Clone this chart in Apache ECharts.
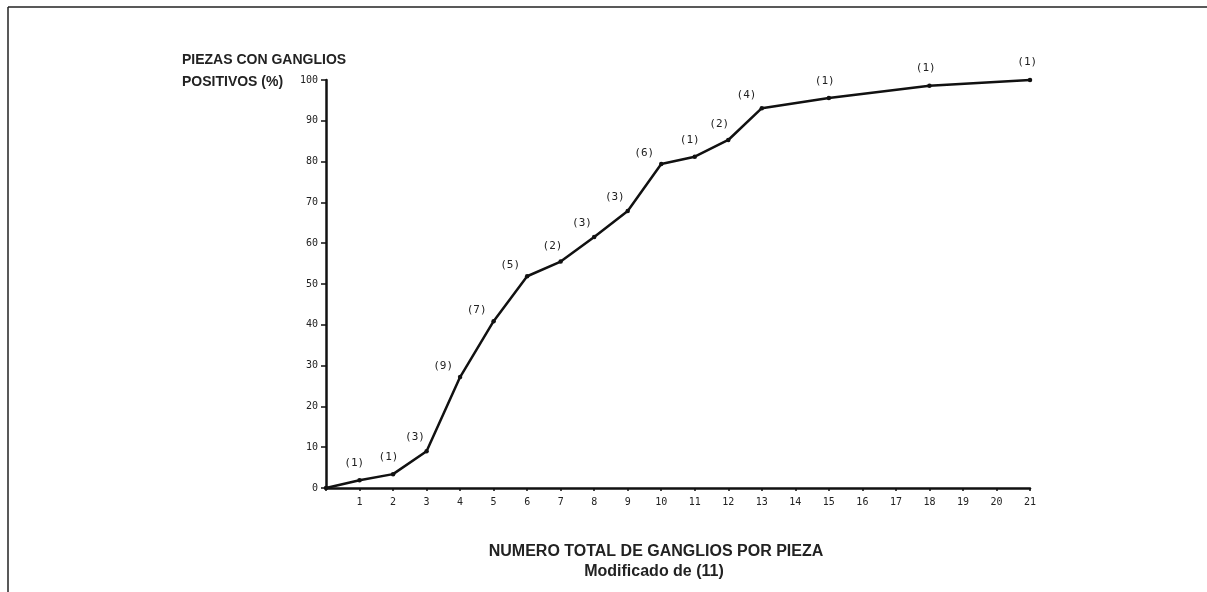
<!DOCTYPE html>
<html><head><meta charset="utf-8">
<script src="https://cdn.jsdelivr.net/npm/echarts@6/dist/echarts.min.js"></script>
<style>html,body{margin:0;padding:0;background:#fff}#c{width:1207px;height:592px}</style>
</head><body><div id="c"></div>
<script>
const xValues = [0, 1, 2, 3, 4, 5, 6, 7, 8, 9, 10, 11, 12, 13, 15, 18, 21];
const yValues = [0, 1.9, 3.4, 9.0, 27.2, 40.9, 51.9, 55.5, 61.5, 67.9, 79.4, 81.2, 85.3, 93.1, 95.6, 98.6, 100];
const counts = ['', '(1)', '(1)', '(3)', '(9)', '(7)', '(5)', '(2)', '(3)', '(3)', '(6)', '(1)', '(2)', '(4)', '(1)', '(1)', '(1)'];
const yTitle = ['PIEZAS CON GANGLIOS', 'POSITIVOS (%)'];
const xTitle = 'NUMERO TOTAL DE GANGLIOS POR PIEZA';
const source = 'Modificado de (11)';

const W = 1207, H = 592;
const grid = {left: 326, right: 177, top: 80, bottom: 104};
const xMax = 21, yMax = 100;
const pxPerX = (W - grid.left - grid.right) / xMax;
const pxPerY = (H - grid.top - grid.bottom) / yMax;

const chart = echarts.init(document.getElementById('c'), null, {renderer: 'canvas'});
// label offsets depend on the on-screen slope of the segment arriving at each point
const data = xValues.map((x, i) => {
  let p = 0;
  if (i > 0) p = ((yValues[i] - yValues[i - 1]) * pxPerY) / ((x - xValues[i - 1]) * pxPerX);
  const dx = -Math.min(17, 2 + 14 * p);
  const dy = -18 + 5 * Math.min(1.4, p);
  return {value: [x, yValues[i]], label: {formatter: counts[i], offset: [dx, dy]}};
});
const tickFont = {fontFamily: 'DejaVu Sans Mono', fontSize: 10, color: '#222'};
chart.setOption({
  animation: false,
  backgroundColor: '#fff',
  grid: grid,
  xAxis: {
    type: 'value', min: 0, max: xMax, interval: 1,
    axisLine: {lineStyle: {color: '#111', width: 2.5}},
    axisTick: {show: true, length: 3, lineStyle: {color: '#111', width: 1.5}},
    axisLabel: Object.assign({margin: 9, formatter: v => v === 0 ? '' : String(v)}, tickFont),
    splitLine: {show: false}
  },
  yAxis: {
    type: 'value', min: 0, max: yMax, interval: 10,
    axisLine: {show: true, lineStyle: {color: '#111', width: 2.5}},
    axisTick: {show: true, length: 5, lineStyle: {color: '#111', width: 1.5}},
    axisLabel: Object.assign({margin: 8}, tickFont),
    splitLine: {show: false}
  },
  series: [{
    type: 'line',
    data: data,
    clip: false,
    symbol: 'circle', symbolSize: 4.5,
    itemStyle: {color: '#111'},
    lineStyle: {color: '#111', width: 2.5},
    label: {show: true, position: 'inside', align: 'center', verticalAlign: 'middle',
            fontFamily: 'DejaVu Sans Mono', fontSize: 11, color: '#222'}
  }],
  graphic: [
    {type: 'line', shape: {x1: 8, y1: 7, x2: 1207, y2: 7}, style: {stroke: '#222', lineWidth: 1.5}},
    {type: 'line', shape: {x1: 8, y1: 7, x2: 8, y2: 592}, style: {stroke: '#222', lineWidth: 1.5}},
    {type: 'text', x: 182, y: 60, style: {text: yTitle[0], font: 'bold 14px "Liberation Sans"', fill: '#222', textVerticalAlign: 'middle'}},
    {type: 'text', x: 182, y: 82, style: {text: yTitle[1], font: 'bold 14px "Liberation Sans"', fill: '#222', textVerticalAlign: 'middle'}},
    {type: 'text', x: 656, y: 552, style: {text: xTitle, font: 'bold 16px "Liberation Sans"', fill: '#222', textAlign: 'center', textVerticalAlign: 'middle'}},
    {type: 'text', x: 654, y: 572, style: {text: source, font: 'bold 16px "Liberation Sans"', fill: '#222', textAlign: 'center', textVerticalAlign: 'middle'}}
  ]
});
</script></body></html>
